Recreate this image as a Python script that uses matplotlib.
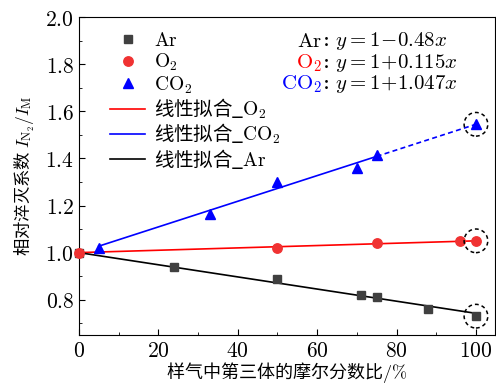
import numpy as np
import matplotlib
matplotlib.use("Agg")
import matplotlib.pyplot as plt
from matplotlib.ticker import MultipleLocator, FuncFormatter
from matplotlib.lines import Line2D

plt.rcParams['font.family'] = ['Noto Sans CJK SC', 'DejaVu Sans']
plt.rcParams['mathtext.fontset'] = 'cm'

# measured quenching ratios vs. mole fraction of third body (%)
ar_x = [0, 24, 50, 71, 75, 88, 100]
ar_y = [1.0, 0.94, 0.89, 0.82, 0.81, 0.76, 0.73]
o2_x = [0, 50, 75, 96, 100]
o2_y = [1.0, 1.02, 1.04, 1.05, 1.05]
co2_x = [5, 33, 50, 70, 75, 100]
co2_y = [1.02, 1.165, 1.30, 1.36, 1.415, 1.545]

# fitted lines (intercept, slope per %)
fit_ar = (1.0, -0.00258)
fit_o2 = (1.0, 0.0005)
fit_co2 = (1.0, 0.00545)

# points circled at 100 %
circled_x = [100, 100, 100]
circled_y = [0.73, 1.05, 1.545]

fig = plt.figure(figsize=(4.96, 3.9), dpi=100)
ax = fig.add_axes([0.159, 0.141, 0.839, 0.815])

xs = np.array([0, 100])
ax.plot(xs, fit_o2[0] + fit_o2[1] * xs, color='#ff0000', lw=1.2)
xs = np.array([5, 75])
ax.plot(xs, fit_co2[0] + fit_co2[1] * xs, color='#0000ff', lw=1.2)
xs = np.array([75, 100])
ax.plot(xs, fit_co2[0] + fit_co2[1] * xs, color='#0000ff', lw=1.2, ls=(0, (3, 2)))
xs = np.array([0, 100])
ax.plot(xs, fit_ar[0] + fit_ar[1] * xs, color='black', lw=1.2)

ax.plot(ar_x, ar_y, 's', color='#404040', ms=5.8, ls='none', clip_on=False, zorder=3)
ax.plot(co2_x, co2_y, '^', color='#0000ff', ms=7, ls='none', clip_on=False, zorder=3)
ax.plot(o2_x, o2_y, 'o', color='#f03232', ms=6.8, ls='none', clip_on=False, zorder=4)

ax.scatter(circled_x, circled_y, s=290, facecolors='none', edgecolors='black',
           linewidths=1.1, linestyles=(0, (2.5, 2)), zorder=5)

ax.set_xlim(0, 104.8)
ax.set_ylim(0.65, 2.0)
ax.xaxis.set_major_locator(MultipleLocator(20))
ax.xaxis.set_minor_locator(MultipleLocator(10))
ax.yaxis.set_major_locator(MultipleLocator(0.2))
ax.yaxis.set_minor_locator(MultipleLocator(0.1))
ax.xaxis.set_major_formatter(FuncFormatter(lambda v, p: f'${v:.0f}$'))
ax.yaxis.set_major_formatter(FuncFormatter(lambda v, p: f'${v:.1f}$'))
ax.tick_params(which='both', direction='in', top=False, right=False,
               labelsize=15.5, pad=3.5)
ax.tick_params(which='major', length=4)
ax.tick_params(which='minor', length=2.5)

ax.set_xlabel(r'样气中第三体的摩尔分数比$/\%$', fontsize=13, labelpad=-1)
ax.set_ylabel(r'相对淬灭系数 $I_{\mathrm{N_2}}/I_{\mathrm{M}}$', fontsize=12.5, labelpad=6)

handles = [
    Line2D([], [], marker='s', color='#404040', ls='none', ms=5.8),
    Line2D([], [], marker='o', color='#f03232', ls='none', ms=6.8),
    Line2D([], [], marker='^', color='#0000ff', ls='none', ms=7),
    Line2D([], [], color='#ff0000', lw=1.2),
    Line2D([], [], color='#0000ff', lw=1.2),
    Line2D([], [], color='black', lw=1.2),
]
labels = [r'$\mathrm{Ar}$', r'$\mathrm{O_2}$', r'$\mathrm{CO_2}$',
          r'线性拟合_$\mathrm{O_2}$', r'线性拟合_$\mathrm{CO_2}$', r'线性拟合_$\mathrm{Ar}$']
ax.legend(handles, labels, loc='upper left', frameon=False, fontsize=14,
          handlelength=1.8, handletextpad=0.45, labelspacing=0.05,
          borderaxespad=0.0, borderpad=0.0, bbox_to_anchor=(0.075, 0.96))

# fitted equations
eq_x = 61.2
eq_rows = [
    (r'$\mathrm{Ar}$', 'black', r': $y=1\!-\!0.48x$', 1.898),
    (r'$\mathrm{O_2}$', 'red', r': $y=1\!+\!0.115x$', 1.806),
    (r'$\mathrm{CO_2}$', '#0000ff', r': $y=1\!+\!1.047x$', 1.716),
]
for name, col, eq, yy in eq_rows:
    ax.text(eq_x, yy, name, color=col, ha='right', va='center', fontsize=15)
    ax.text(eq_x, yy, eq, color='black', ha='left', va='center', fontsize=15,
            family='DejaVu Serif')

fig.savefig('out.png', dpi=100)
